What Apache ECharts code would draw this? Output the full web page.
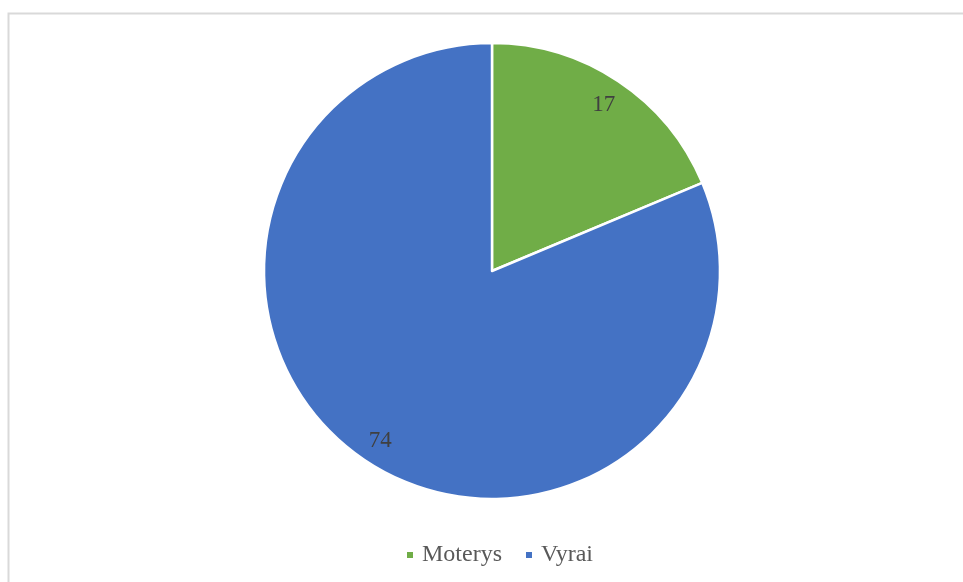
<!DOCTYPE html>
<html>
<head>
<meta charset="utf-8">
<script src="https://cdn.jsdelivr.net/npm/echarts@6/dist/echarts.min.js"></script>
<style>
html,body{margin:0;padding:0;background:#fff;}
#main{width:963px;height:582px;}
</style>
</head>
<body>
<div id="main"></div>
<script>
const categories = ['Moterys', 'Vyrai'];
const values = [17, 74];
const colors = ['#70AD47', '#4472C4'];

const chart = echarts.init(document.getElementById('main'), null, {renderer: 'canvas'});
const data = categories.map((c, i) => ({name: c, value: values[i], itemStyle: {color: colors[i]}}));
const option = {
  animation: false,
  backgroundColor: '#fff',
  graphic: [{
    type: 'rect',
    shape: {x: 8.5, y: 13.5, width: 980, height: 600},
    style: {fill: 'none', stroke: '#d9d9d9', lineWidth: 2},
    silent: true
  }],
  legend: {
    data: categories,
    top: 538,
    left: 400,
    icon: 'rect',
    itemWidth: 8,
    itemHeight: 8,
    itemGap: 22,
    textStyle: {fontFamily: 'Liberation Serif', fontSize: 24, color: '#595959', padding: [0, 0, 0, 3]}
  },
  series: [{
    type: 'pie',
    center: [492, 271],
    radius: [0, 228],
    startAngle: 90,
    clockwise: true,
    data: data,
    label: {show: false},
    labelLine: {show: false},
    itemStyle: {borderColor: '#fff', borderWidth: 2.5},
    emphasis: {disabled: true}
  }, {
    type: 'pie',
    center: [492, 273],
    radius: [170, 228],
    startAngle: 90,
    clockwise: true,
    silent: true,
    data: categories.map((c, i) => ({name: c, value: values[i]})),
    itemStyle: {color: 'rgba(0,0,0,0)', borderWidth: 0},
    label: {show: true, position: 'inside', formatter: '{c}', fontFamily: 'Liberation Serif', fontSize: 23, color: '#404040'},
    labelLine: {show: false},
    emphasis: {disabled: true}
  }]
};
chart.setOption(option);
</script>
</body>
</html>
